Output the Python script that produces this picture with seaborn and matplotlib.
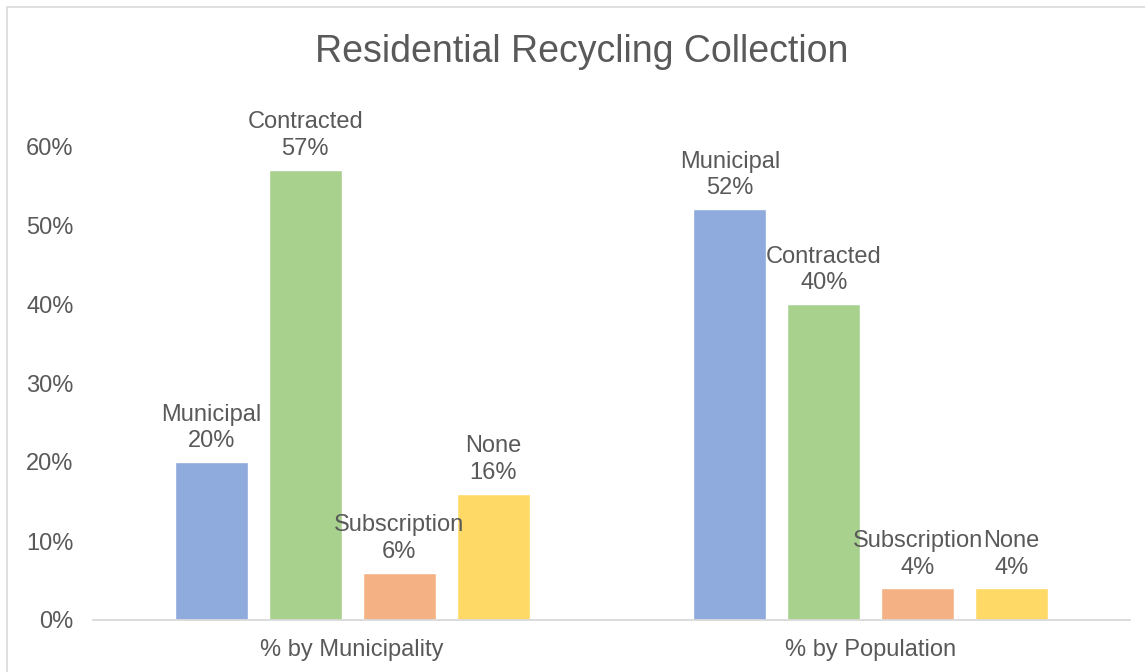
import matplotlib
matplotlib.use("Agg")
import matplotlib.pyplot as plt
import seaborn as sns
import pandas as pd
from matplotlib.patches import Rectangle

groups = ["% by Municipality", "% by Population"]
types = ["Municipal", "Contracted", "Subscription", "None"]
by_municipality = [0.20, 0.57, 0.06, 0.16]
by_population = [0.52, 0.40, 0.04, 0.04]
colors = ["#8FAADC", "#A9D18E", "#F4B183", "#FFD966"]
yticks = [0, 0.1, 0.2, 0.3, 0.4, 0.5, 0.6]
ytick_labels = ["0%", "10%", "20%", "30%", "40%", "50%", "60%"]
title = "Residential Recycling Collection"

rows = []
for g, vals in zip(groups, [by_municipality, by_population]):
    for t, v in zip(types, vals):
        rows.append({"group": g, "type": t, "value": v})
df = pd.DataFrame(rows)

sns.set_style("white")
plt.rcParams["font.family"] = ["Liberation Sans", "DejaVu Sans"]
txt = "#595959"

fig = plt.figure(figsize=(11.45, 6.72), dpi=100)
ax = fig.add_axes([93 / 1145, 1 - 620 / 672, (1130 - 93) / 1145, (620 - 67) / 672])

sns.barplot(data=df, x="group", y="value", hue="type", hue_order=types,
            palette=colors, width=0.725, gap=0.223, ax=ax, legend=False,
            errorbar=None, saturation=1)

for cont, t in zip(ax.containers, types):
    vals = df[df["type"] == t]["value"].tolist()
    ax.bar_label(cont, labels=[f"{t}\n{v:.0%}" for v in vals], padding=7,
                 fontsize=17, color=txt, linespacing=1.28)

ax.set_ylim(0, 0.7)
ax.set_yticks(yticks)
ax.set_yticklabels(ytick_labels)
ax.set_xlim(-0.5, 1.5)
ax.set_xlabel("")
ax.set_ylabel("")
ax.tick_params(axis="both", length=0, labelsize=17, labelcolor=txt)
ax.tick_params(axis="y", pad=14)
ax.tick_params(axis="x", pad=14)
for s in ["top", "right", "left"]:
    ax.spines[s].set_visible(False)
ax.spines["bottom"].set_color("#D9D9D9")
ax.spines["bottom"].set_linewidth(1.3)

fig.text(582 / 1145, 1 - 52 / 672, title, ha="center", va="center",
         fontsize=27, color=txt)

fig.patches.append(Rectangle((7 / 1145, -0.1), 1.2, 1 - 7 / 672 + 0.1,
                             transform=fig.transFigure, fill=False,
                             edgecolor="#D9D9D9", linewidth=1.2))

fig.savefig("out.png", dpi=100)
